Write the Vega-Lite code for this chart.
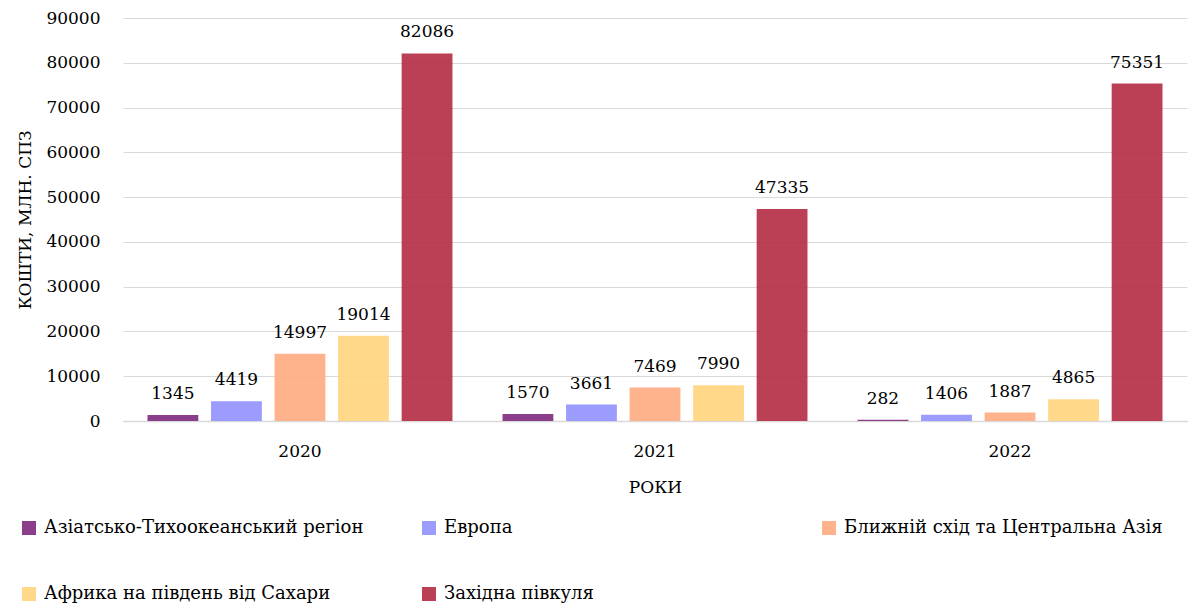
{
  "$schema": "https://vega.github.io/schema/vega-lite/v6.json",
  "autosize": {"type": "none"},
  "width": 1064,
  "height": 403,
  "padding": {"left": 123, "top": 18, "right": 8, "bottom": 189},
  "background": "white",
  "config": {"font": "DejaVu Serif", "view": {"stroke": null}},
  "data": {
    "values": [
      {"year": "2020", "region": "Азіатсько-Тихоокеанський регіон", "value": 1345},
      {"year": "2020", "region": "Европа", "value": 4419},
      {"year": "2020", "region": "Ближній схід та Центральна Азія", "value": 14997},
      {"year": "2020", "region": "Африка на південь від Сахари", "value": 19014},
      {"year": "2020", "region": "Західна півкуля", "value": 82086},
      {"year": "2021", "region": "Азіатсько-Тихоокеанський регіон", "value": 1570},
      {"year": "2021", "region": "Европа", "value": 3661},
      {"year": "2021", "region": "Ближній схід та Центральна Азія", "value": 7469},
      {"year": "2021", "region": "Африка на південь від Сахари", "value": 7990},
      {"year": "2021", "region": "Західна півкуля", "value": 47335},
      {"year": "2022", "region": "Азіатсько-Тихоокеанський регіон", "value": 282},
      {"year": "2022", "region": "Европа", "value": 1406},
      {"year": "2022", "region": "Ближній схід та Центральна Азія", "value": 1887},
      {"year": "2022", "region": "Африка на південь від Сахари", "value": 4865},
      {"year": "2022", "region": "Західна півкуля", "value": 75351}
    ]
  },
  "encoding": {
    "x": {
      "field": "year",
      "type": "nominal",
      "scale": {"paddingInner": 0.141, "paddingOuter": 0.069},
      "axis": {
        "title": "РОКИ",
        "labelAngle": 0,
        "labelFont": "DejaVu Serif",
        "labelFontSize": 17,
        "labelColor": "black",
        "labelPadding": 22,
        "ticks": false,
        "domainColor": "#d9d9d9",
        "domainWidth": 1.5,
        "titleFont": "DejaVu Serif",
        "titleFontSize": 17,
        "titleFontWeight": "normal",
        "titleColor": "black",
        "titleY": 71,
        "titleBaseline": "alphabetic",
        "grid": false
      }
    },
    "xOffset": {
      "field": "region",
      "type": "nominal",
      "sort": ["Азіатсько-Тихоокеанський регіон", "Европа", "Ближній схід та Центральна Азія", "Африка на південь від Сахари", "Західна півкуля"],
      "scale": {"paddingInner": 0.2, "paddingOuter": 0}
    },
    "y": {
      "field": "value",
      "type": "quantitative",
      "scale": {"domain": [0, 90000], "nice": false},
      "axis": {
        "title": "КОШТИ, МЛН. СПЗ",
        "values": [0, 10000, 20000, 30000, 40000, 50000, 60000, 70000, 80000, 90000],
        "format": "d",
        "labelFont": "DejaVu Serif",
        "labelFontSize": 17,
        "labelColor": "black",
        "labelPadding": 23,
        "ticks": false,
        "domain": false,
        "gridColor": "#d9d9d9",
        "gridWidth": 1,
        "titleFont": "DejaVu Serif",
        "titleFontSize": 17,
        "titleFontWeight": "normal",
        "titleColor": "black",
        "titleX": -93,
        "titleY": 201.5,
        "titleBaseline": "alphabetic",
        "titleAngle": -90,
        "titleAlign": "center"
      }
    }
  },
  "layer": [
    {
      "mark": {"type": "bar", "opacity": 0.9},
      "encoding": {
        "color": {
          "field": "region",
          "type": "nominal",
          "scale": {
            "domain": ["Азіатсько-Тихоокеанський регіон", "Африка на південь від Сахари", "Европа", "Західна півкуля", "Ближній схід та Центральна Азія"],
            "range": ["#7E2A7E", "#FFD47D", "#9191FF", "#B42B42", "#FFAB80"]
          },
          "legend": {
            "title": null,
            "orient": "none",
            "legendX": -103,
            "legendY": 501,
            "columns": 3,
            "gridAlign": "all",
            "columnPadding": 56,
            "rowPadding": 48,
            "padding": 0,
            "symbolType": "square",
            "symbolSize": 196,
            "symbolStrokeWidth": 0,
            "symbolOpacity": 0.9,
            "labelFontSize": 18,
            "labelFont": "DejaVu Serif",
            "labelColor": "black",
            "labelOffset": 6,
            "labelLimit": 500
          }
        }
      }
    },
    {
      "mark": {"type": "text", "baseline": "alphabetic", "dy": -16, "fontSize": 17, "font": "DejaVu Serif", "color": "black"},
      "encoding": {
        "text": {"field": "value", "type": "quantitative", "format": "d"}
      }
    }
  ]
}
